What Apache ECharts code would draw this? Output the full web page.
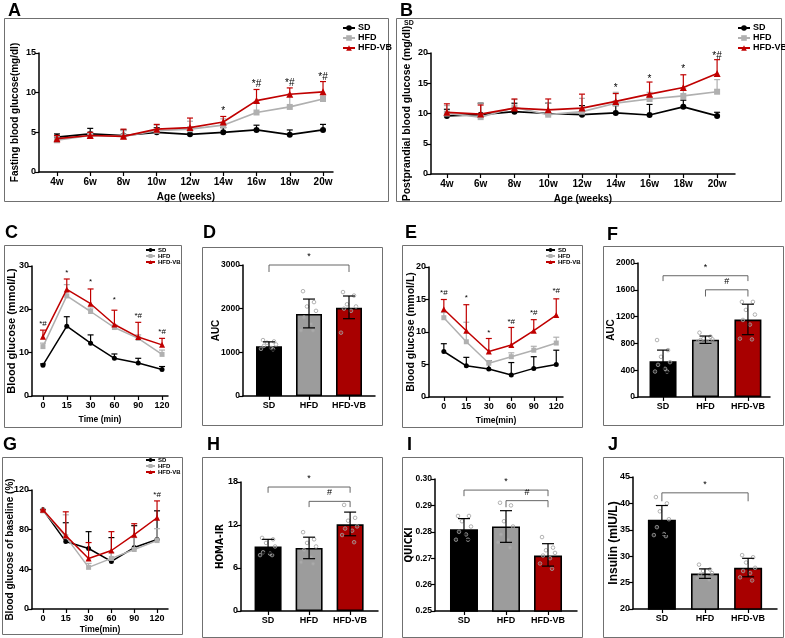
<!DOCTYPE html>
<html><head><meta charset="utf-8">
<script src="https://cdn.jsdelivr.net/npm/echarts@6/dist/echarts.min.js"></script>
<style>html,body{margin:0;padding:0;background:#fff}#c{width:785px;height:638px}</style>
</head><body><div id="c"></div><script>
// ---------- DATA ----------
const groups = ['SD', 'HFD', 'HFD-VB'];
const weeks = ['4w', '6w', '8w', '10w', '12w', '14w', '16w', '18w', '20w'];
const timeLabels = ['0', '15', '30', '60', '90', '120'];

// A: fasting blood glucose
const aSD = [4.4, 4.8, 4.6, 5.0, 4.75, 5.0, 5.3, 4.7, 5.3];
const aSDTop = [4.8, 5.5, 5.3, 5.6, 5.6, 5.6, 5.9, 5.3, 6.0];
const aHFD = [4.0, 4.6, 4.5, 5.2, 5.4, 5.9, 7.5, 8.2, 9.2];
const aHFDTop = [4.5, 5.0, 5.2, 5.9, 6.4, 6.7, 8.8, 9.8, 9.7];
const aVB = [4.2, 4.6, 4.5, 5.4, 5.6, 6.3, 9.0, 9.8, 10.1];
const aVBTop = [4.6, 5.0, 5.4, 6.0, 6.8, 7.0, 10.4, 10.6, 11.4];
const aMarkX = [5, 6, 7, 8];
const aMarkY = [7.6, 11.1, 11.2, 12.0];
const aMarkT = ['*', '*#', '*#', '*#'];

// B: postprandial blood glucose
const bSD = [9.6, 9.8, 10.3, 10.0, 9.8, 10.1, 9.75, 11.1, 9.6];
const bSDTop = [10.7, 11.7, 11.7, 11.7, 11.3, 11.3, 11.5, 12.2, 10.2];
const bHFD = [10.0, 9.4, 11.0, 9.8, 10.3, 11.7, 12.4, 12.9, 13.6];
const bHFDTop = [11.3, 11.6, 12.3, 11.7, 12.5, 13.5, 13.5, 14.2, 15.6];
const bVB = [10.2, 9.9, 10.9, 10.6, 10.9, 12.0, 13.2, 14.3, 16.6];
const bVBTop = [11.6, 11.4, 12.4, 12.4, 13.2, 13.3, 15.2, 16.4, 18.9];
const bMarkX = [5, 6, 7, 8];
const bMarkY = [14.2, 15.7, 17.3, 19.5];
const bMarkT = ['*', '*', '*', '*#'];

// C: OGTT blood glucose
const cSD = [7.1, 16.1, 12.2, 8.7, 7.6, 6.1];
const cSDTop = [7.4, 18.3, 14.1, 9.7, 8.7, 6.8];
const cHFD = [11.4, 23.1, 19.5, 15.8, 13.3, 9.6];
const cHFDTop = [12.2, 25.7, 20.3, 16.4, 14.1, 10.6];
const cVB = [13.7, 24.6, 21.3, 16.5, 13.6, 11.8];
const cVBTop = [15.2, 27.0, 24.7, 19.8, 17.0, 13.3];
const cMarkX = [0, 1, 2, 3, 4, 5];
const cMarkY = [16.6, 28.5, 26.4, 22.2, 18.5, 14.8];
const cMarkT = ['*#', '*', '*', '*', '*#', '*#'];

// D: OGTT AUC
const dMean = [1140, 1880, 2020];
const dLow = [1050, 1560, 1770];
const dHigh = [1240, 2220, 2290];
const dPtsSD = [1280, 1250, 1220, 1180, 1150, 1100, 1080, 1070];
const dPtsHFD = [2400, 2150, 2050, 1950, 1800, 1650, 1500, 1500];
const dPtsVB = [2380, 2300, 2100, 2050, 2000, 1950, 1450];
const dBrX1 = [0], dBrX2 = [2], dBrY = [3000], dBrDrop = [2840], dBrT = ['*'];

// E: ITT blood glucose
const eSD = [7.0, 4.8, 4.3, 3.4, 4.4, 5.0];
const eSDTop = [8.2, 6.1, 5.6, 5.3, 6.2, 7.2];
const eHFD = [12.2, 8.5, 5.2, 6.2, 7.2, 8.3];
const eHFDTop = [13.0, 11.5, 5.6, 6.8, 7.8, 9.2];
const eVB = [13.5, 10.2, 7.0, 8.0, 10.2, 12.6];
const eVBTop = [15.0, 14.2, 9.0, 10.7, 11.9, 15.1];
const eMarkX = [0, 1, 2, 3, 4, 5];
const eMarkY = [16.0, 15.2, 9.9, 11.6, 13.0, 16.4];
const eMarkT = ['*#', '*', '*', '*#', '*#', '*#'];

// F: ITT AUC
const fMean = [535, 855, 1155];
const fLow = [370, 800, 930];
const fHigh = [700, 910, 1385];
const fPtsSD = [850, 700, 600, 520, 480, 420, 380, 380];
const fPtsHFD = [960, 900, 870, 860, 850, 820, 820, 800];
const fPtsVB = [1420, 1420, 1300, 1230, 1150, 1080, 870, 860];
const fBrX1 = [0, 1], fBrX2 = [2, 2], fBrY = [1810, 1600], fBrDrop = [1730, 1500], fBrT = ['*', '#'];

// G: blood glucose of baseline (%)
const gSD = [100, 68, 61, 48, 62, 70];
const gSDTop = [100, 87, 78, 72, 84, 99];
const gHFD = [99, 73, 42, 51, 60, 69];
const gHFDTop = [99, 95, 46, 57, 72, 81];
const gVB = [100, 74, 51, 59, 75, 92];
const gVBTop = [100, 98, 67, 78, 86, 109];
const gMarkX = [5];
const gMarkY = [115.5];
const gMarkT = ['*#'];

// H: HOMA-IR
const hMean = [9.0, 8.8, 12.1];
const hLow = [8.1, 7.3, 10.5];
const hHigh = [10.0, 10.3, 13.8];
const hPtsSD = [10.2, 10.0, 9.5, 9.0, 8.2, 8.0, 7.8, 7.8];
const hPtsHFD = [11.0, 10.0, 9.5, 9.0, 8.5, 7.5, 6.8, 6.6];
const hPtsVB = [14.8, 13.0, 12.6, 11.8, 11.5, 11.2, 10.6, 9.6];
const hBrX1 = [0, 1], hBrX2 = [2, 2], hBrY = [17.3, 15.3], hBrDrop = [16.5, 14.5], hBrT = ['*', '#'];

// I: QUICKI
const iMean = [0.281, 0.282, 0.271];
const iLow = [0.277, 0.276, 0.267];
const iHigh = [0.285, 0.288, 0.2755];
const iPtsSD = [0.286, 0.286, 0.284, 0.282, 0.280, 0.279, 0.277, 0.277];
const iPtsHFD = [0.291, 0.290, 0.284, 0.282, 0.279, 0.277, 0.276, 0.274];
const iPtsVB = [0.278, 0.274, 0.273, 0.272, 0.271, 0.270, 0.268, 0.266];
const iBrX1 = [0, 1], iBrX2 = [2, 2], iBrY = [0.2958, 0.2918], iBrDrop = [0.2935, 0.2893], iBrT = ['*', '#'];

// J: Insulin
const jMean = [36.9, 26.7, 27.8];
const jLow = [34.1, 25.8, 26.1];
const jHigh = [39.6, 27.6, 29.6];
const jPtsSD = [41.2, 40.0, 38.5, 37.0, 35.5, 34.2, 34.0, 33.8];
const jPtsHFD = [28.4, 27.5, 27.2, 26.8, 26.5, 26.0, 25.8, 25.5];
const jPtsVB = [30.2, 29.8, 28.8, 27.8, 27.2, 26.8, 26.0, 25.4];
const jBrX1 = [0], jBrX2 = [2], jBrY = [42.0], jBrDrop = [40.4], jBrT = ['*'];

// ---------- STYLE ----------
const BOLD = "'Liberation Sans', Arial, sans-serif";
const NARROW = "'Liberation Sans Narrow', 'Arial Narrow', 'DejaVu Sans Condensed', 'Liberation Sans', sans-serif";
const lineColors = ['#000000', '#b0b0b0', '#c00000'];
const barColors = ['#000000', '#9c9c9c', '#a80000'];
const symbols = ['circle', 'rect', 'triangle'];
const JIT = [-6, 5, -2, 7, -5, 2, -8, 4, 0];

const grids = [], xAxes = [], yAxes = [], series = [], legends = [];

function addGrid(box, xr, xLabels, yr, yInt, yName, yGap, xName, xGap, opt) {
  const gi = grids.length;
  const fam = opt.fam, fs = opt.fs;
  grids.push({left: box[0], top: box[1], width: box[2], height: box[3]});
  const idx = xLabels.map((_, i) => i);
  xAxes.push({
    type: 'value', gridIndex: gi, min: xr[0], max: xr[1],
    name: xName, nameLocation: 'middle', nameGap: xGap, nameMoveOverlap: false,
    nameTextStyle: {fontFamily: opt.xnfam || BOLD, fontWeight: 'bold', fontSize: opt.xnfs || 10, color: '#000'},
    axisLine: {show: true, onZero: false, lineStyle: {color: '#000', width: 1.5}},
    axisTick: {show: true, length: 4, customValues: idx, lineStyle: {color: '#000', width: 1.2}},
    axisLabel: {customValues: idx, formatter: v => xLabels[Math.round(v)], color: '#000', fontFamily: fam, fontWeight: 'bold', fontSize: opt.xfs || fs, margin: 5},
    splitLine: {show: false}
  });
  yAxes.push({
    type: 'value', gridIndex: gi, min: yr[0], max: yr[1], interval: yInt,
    name: yName, nameLocation: 'middle', nameGap: yGap, nameMoveOverlap: false,
    nameTextStyle: {fontFamily: opt.nfam || BOLD, fontWeight: 'bold', fontSize: opt.nfs, color: '#000'},
    axisLine: {show: true, onZero: false, lineStyle: {color: '#000', width: 1.5}},
    axisTick: {show: true, length: 4, lineStyle: {color: '#000', width: 1.2}},
    axisLabel: {color: '#000', fontFamily: fam, fontWeight: 'bold', fontSize: opt.yfs || fs, margin: 3,
      formatter: opt.yFmt || (v => String(v))},
    splitLine: {show: false}
  });
  return gi;
}

function errRender(color, cap, lw, both) {
  return function (params, api) {
    const x = api.value(0);
    const t = api.coord([x, api.value(2)]);
    const b = api.coord([x, api.value(3)]);
    const st = {stroke: color, lineWidth: lw};
    const ch = [
      {type: 'line', shape: {x1: t[0], y1: t[1], x2: b[0], y2: b[1]}, style: st},
      {type: 'line', shape: {x1: t[0] - cap, y1: t[1], x2: t[0] + cap, y2: t[1]}, style: st}
    ];
    if (both) ch.push({type: 'line', shape: {x1: b[0] - cap, y1: b[1], x2: b[0] + cap, y2: b[1]}, style: st});
    return {type: 'group', children: ch};
  };
}

function addLinePanel(gi, sets, markX, markY, markT, o) {
  sets.forEach((s, k) => {
    const vals = s[0], tops = s[1];
    series.push({
      type: 'custom', xAxisIndex: gi, yAxisIndex: gi, z: 3 + k * 2,
      renderItem: errRender(lineColors[k], o.cap, 1.2, false),
      encode: {x: 0, y: [1, 2, 3]},
      data: vals.map((v, i) => [i, v, tops[i], v]),
      silent: true
    });
    series.push({
      type: 'line', name: groups[k], xAxisIndex: gi, yAxisIndex: gi, z: 4 + k * 2,
      data: vals.map((v, i) => [i, v]),
      symbol: symbols[k], symbolSize: k === 2 ? o.sym + 1 : o.sym,
      lineStyle: {color: lineColors[k], width: o.lw},
      itemStyle: {color: lineColors[k]},
      animation: false, silent: true
    });
  });
  series.push({
    type: 'custom', xAxisIndex: gi, yAxisIndex: gi, z: 20, silent: true,
    data: markX.map((x, i) => [x, markY[i]]),
    encode: {x: 0, y: 1},
    renderItem: function (params, api) {
      const p = api.coord([api.value(0), api.value(1)]);
      return {type: 'text', x: p[0], y: p[1], style: {text: markT[params.dataIndex], align: 'center', verticalAlign: 'middle',
        fontSize: o.mfs, fontFamily: BOLD, fill: '#000'}};
    }
  });
}

function addBarPanel(gi, mean, low, high, pts, brX1, brX2, brY, brDrop, brT, o) {
  series.push({
    type: 'bar', xAxisIndex: gi, yAxisIndex: gi, barWidth: o.bw, clip: true, z: 2,
    data: mean.map((v, i) => ({value: [i, v], itemStyle: {color: barColors[i]}})),
    itemStyle: {borderColor: '#000', borderWidth: 1.6},
    animation: false, silent: true
  });
  const dots = [];
  pts.forEach((arr, gIdx) => arr.forEach((v, k) => dots.push([gIdx, v, k])));
  series.push({
    type: 'custom', xAxisIndex: gi, yAxisIndex: gi, z: 3, silent: true,
    data: dots, encode: {x: 0, y: 1},
    renderItem: function (params, api) {
      const p = api.coord([api.value(0), api.value(1)]);
      const dx = JIT[api.value(2) % JIT.length];
      return {type: 'circle', shape: {cx: p[0] + dx, cy: p[1], r: 1.8},
        style: {fill: 'rgba(255,255,255,0.15)', stroke: '#a0a0a0', lineWidth: 0.8}};
    }
  });
  series.push({
    type: 'custom', xAxisIndex: gi, yAxisIndex: gi, z: 4, silent: true,
    encode: {x: 0, y: [1, 2, 3]},
    data: mean.map((v, i) => [i, v, high[i], low[i]]),
    renderItem: errRender('#000', 6, 1.2, true)
  });
  series.push({
    type: 'custom', xAxisIndex: gi, yAxisIndex: gi, z: 5, silent: true,
    encode: {x: 0, y: 2},
    data: brX1.map((x, i) => [x, brX2[i], brY[i], brDrop[i]]),
    renderItem: function (params, api) {
      const a = api.coord([api.value(0), api.value(3)]);
      const b = api.coord([api.value(0), api.value(2)]);
      const c = api.coord([api.value(1), api.value(2)]);
      const d = api.coord([api.value(1), api.value(3)]);
      return {type: 'group', children: [
        {type: 'polyline', shape: {points: [a, b, c, d]}, style: {stroke: '#555', lineWidth: 0.9, fill: null}},
        {type: 'text', x: (b[0] + c[0]) / 2, y: b[1] - 4, style: {text: brT[params.dataIndex], align: 'center', verticalAlign: 'bottom',
          fontSize: 9, fontFamily: BOLD, fill: '#000'}}
      ]};
    }
  });
}

function addLegend(left, top, fs, iw, ih, lh) {
  legends.push({
    data: groups, orient: 'vertical', left: left, top: top, itemWidth: iw, itemHeight: ih, itemGap: 0,
    padding: 0, selectedMode: false,
    textStyle: {fontSize: fs, fontWeight: 'bold', color: '#000', fontFamily: BOLD, lineHeight: lh, padding: [0, 0, 0, -2]}
  });
}

// ---------- PANELS ----------
const mk = (o) => Object.assign({fam: BOLD, fs: 9, nfs: 10, xnfs: 10}, o);

// A
let g = addGrid([39, 53, 294, 119], [-0.54, 8.3], weeks, [0, 15], 5, 'Fasting blood glucose(mg/dl)', 19, 'Age (weeks)', 20, mk({xfs: 10}));
addLinePanel(g, [[aSD, aSDTop], [aHFD, aHFDTop], [aVB, aVBTop]], aMarkX, aMarkY, aMarkT, {cap: 3, lw: 1.7, sym: 6, mfs: 10});
addLegend(342, 23, 9, 12, 7, 10);
// B
g = addGrid([431, 53, 304, 121], [-0.47, 8.53], weeks, [0, 20], 5, 'Postprandial blood glucose (mg/dl)', 18, 'Age (weeks)', 20, mk({xfs: 10, nfs: 10.5}));
addLinePanel(g, [[bSD, bSDTop], [bHFD, bHFDTop], [bVB, bVBTop]], bMarkX, bMarkY, bMarkT, {cap: 3, lw: 1.7, sym: 6, mfs: 10});
addLegend(737, 23, 9, 12, 7, 10);
// C
g = addGrid([32, 266, 136, 130], [-0.46, 5.25], timeLabels, [0, 30], 10, 'Blood glucose (mmol/L)', 15, 'Time (min)', 19, mk({nfs: 11, xnfs: 8.5}));
addLinePanel(g, [[cSD, cSDTop], [cHFD, cHFDTop], [cVB, cVBTop]], cMarkX, cMarkY, cMarkT, {cap: 3, lw: 1.5, sym: 5, mfs: 8});
addLegend(145, 247, 6, 9, 5, 6);
// D
g = addGrid([243, 265, 132, 131], [-0.65, 2.65], groups, [0, 3000], 1000, 'AUC', 22, '', 0, mk({yfs: 8.5}));
addBarPanel(g, dMean, dLow, dHigh, [dPtsSD, dPtsHFD, dPtsVB], dBrX1, dBrX2, dBrY, dBrDrop, dBrT, {bw: 26});
// E
g = addGrid([429, 267, 134, 130], [-0.66, 5.3], timeLabels, [0, 20], 5, 'Blood glucose (mmol/L)', 12, 'Time(min)', 19, mk({nfs: 10.5, xnfs: 8.5}));
addLinePanel(g, [[eSD, eSDTop], [eHFD, eHFDTop], [eVB, eVBTop]], eMarkX, eMarkY, eMarkT, {cap: 3, lw: 1.5, sym: 5, mfs: 8});
addLegend(545, 247, 6, 9, 5, 6);
// F
g = addGrid([638, 263, 132, 134], [-0.59, 2.52], groups, [0, 2000], 400, 'AUC', 22, '', 0, mk({yfs: 8.5}));
addBarPanel(g, fMean, fLow, fHigh, [fPtsSD, fPtsHFD, fPtsVB], fBrX1, fBrX2, fBrY, fBrDrop, fBrT, {bw: 27});
// G
g = addGrid([32, 490, 136, 119], [-0.48, 5.48], timeLabels, [0, 120], 40, 'Blood glucose of baseline (%)', 17, 'Time(min)', 16, mk({xnfs: 8.5}));
addLinePanel(g, [[gSD, gSDTop], [gHFD, gHFDTop], [gVB, gVBTop]], gMarkX, gMarkY, gMarkT, {cap: 3, lw: 1.5, sym: 5, mfs: 8});
addLegend(145, 457, 6, 9, 5, 6);
// H
g = addGrid([241, 482, 137, 129], [-0.66, 2.68], groups, [0, 18], 6, 'HOMA-IR', 16, '', 0, mk({nfam: NARROW}));
addBarPanel(g, hMean, hLow, hHigh, [hPtsSD, hPtsHFD, hPtsVB], hBrX1, hBrX2, hBrY, hBrDrop, hBrT, {bw: 27});
// I
g = addGrid([435, 479, 142, 132], [-0.69, 2.69], groups, [0.25, 0.30], 0.01, 'QUICKI', 21, '', 0, mk({nfam: NARROW, yfs: 8.5, yFmt: v => v.toFixed(2)}));
addBarPanel(g, iMean, iLow, iHigh, [iPtsSD, iPtsHFD, iPtsVB], iBrX1, iBrX2, iBrY, iBrDrop, iBrT, {bw: 28});
// J
g = addGrid([633, 477, 144, 132], [-0.67, 2.67], groups, [20, 45], 5, 'Insulin (mIU/L)', 13, '', 0, mk({nfs: 12}));
addBarPanel(g, jMean, jLow, jHigh, [jPtsSD, jPtsHFD, jPtsVB], jBrX1, jBrX2, jBrY, jBrDrop, jBrT, {bw: 28});

// ---------- FRAMES & LETTERS ----------
const frames = [[4, 18, 384, 183], [396, 18, 385, 183], [4, 245, 177, 182], [202, 247, 180, 178], [402, 245, 180, 182],
  [603, 246, 180, 179], [2, 457, 180, 177], [202, 457, 180, 180], [402, 457, 180, 180], [603, 457, 180, 180]];
const letters = [['A', 8, 2], ['B', 400, 2], ['C', 5, 224], ['D', 203, 224], ['E', 405, 224], ['F', 607, 226],
  ['G', 3, 436], ['H', 207, 436], ['I', 407, 436], ['J', 608, 436]];
const graphic = [];
frames.forEach(f => graphic.push({type: 'rect', shape: {x: f[0] + 0.5, y: f[1] + 0.5, width: f[2], height: f[3]},
  style: {fill: 'none', stroke: '#707070', lineWidth: 1}, silent: true, z: 0}));
letters.forEach(l => graphic.push({type: 'text', x: l[1], y: l[2], style: {text: l[0], fontSize: 18, fontWeight: 'bold',
  fontFamily: BOLD, fill: '#000', verticalAlign: 'top'}, silent: true}));
graphic.push({type: 'text', x: 404, y: 20, style: {text: 'SD', fontSize: 7, fontWeight: 'bold', fontFamily: BOLD, fill: '#000'}});

const chart = echarts.init(document.getElementById('c'), null, {renderer: 'canvas'});
chart.setOption({
  animation: false,
  backgroundColor: '#fff',
  grid: grids, xAxis: xAxes, yAxis: yAxes, series: series, legend: legends, graphic: graphic
});
</script></body></html>
